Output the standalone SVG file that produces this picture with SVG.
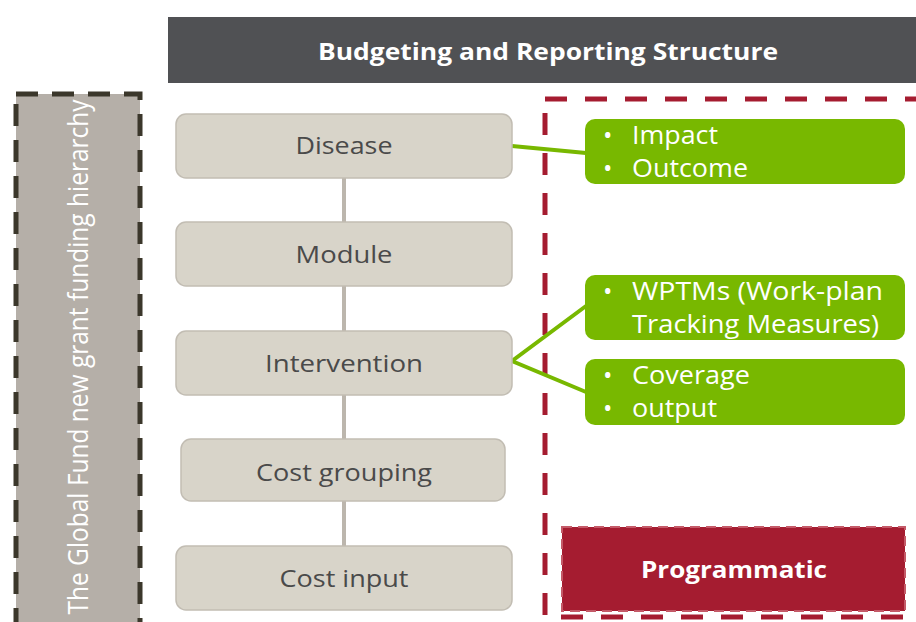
<svg xmlns="http://www.w3.org/2000/svg" width="916" height="622" viewBox="0 0 916 622">
  <style>
    .lvl rect { fill: #d8d4c9; stroke: #c2bdb3; stroke-width: 1.5; }
    .lvl text { font-family: "Open Sans", "Liberation Sans", sans-serif; font-size: 24.5px; fill: #4a4a4a; text-anchor: middle; }
    .res rect { fill: #78b800; }
    .res text { font-family: "Open Sans", "Liberation Sans", sans-serif; font-size: 25px; fill: #ffffff; }
    .stem { stroke: #bcb6ad; stroke-width: 4; fill: none; }
    .link { stroke: #78b800; stroke-width: 4; fill: none; }
  </style>

  <rect width="916" height="622" fill="#ffffff"/>

  <!-- title bar -->
  <g id="title">
    <rect x="168" y="17" width="748" height="66" fill="#505154"/>
    <text x="548" y="60" font-family="Open Sans, Liberation Sans, sans-serif" font-size="23.5" font-weight="bold" fill="#ffffff" text-anchor="middle" textLength="460" lengthAdjust="spacingAndGlyphs">Budgeting and Reporting Structure</text>
  </g>

  <!-- hierarchy side band -->
  <g id="hierarchy">
    <rect x="16" y="94" width="124" height="540" fill="#b5afa8" stroke="#3b372b" stroke-width="5" stroke-dasharray="22 14"/>
    <text transform="translate(88 357) rotate(-90)" font-family="Open Sans, Liberation Sans, sans-serif" font-size="27" fill="#ffffff" text-anchor="middle" textLength="515" lengthAdjust="spacingAndGlyphs">The Global Fund new grant funding hierarchy</text>
  </g>

  <!-- programmatic region -->
  <g id="programmatic-region">
    <rect x="545" y="99" width="380" height="518" fill="none" stroke="#a51c30" stroke-width="5" stroke-dasharray="22 18"/>
  </g>

  <!-- connectors -->
  <g id="connectors">
    <line class="stem" x1="344" y1="178" x2="344" y2="222"/>
    <line class="stem" x1="344" y1="286" x2="344" y2="331"/>
    <line class="stem" x1="344" y1="395" x2="344" y2="439"/>
    <line class="stem" x1="344" y1="501" x2="344" y2="546"/>
    <line class="link" x1="512" y1="146" x2="586" y2="153"/>
    <polyline class="link" points="586,306 512,361 586,392"/>
  </g>

  <!-- hierarchy levels -->
  <g id="disease" class="lvl">
    <rect x="176" y="114" width="336" height="64" rx="10"/>
    <text x="344" y="154" textLength="97" lengthAdjust="spacingAndGlyphs">Disease</text>
  </g>
  <g id="module" class="lvl">
    <rect x="176" y="222" width="336" height="64" rx="10"/>
    <text x="344" y="263" textLength="97" lengthAdjust="spacingAndGlyphs">Module</text>
  </g>
  <g id="intervention" class="lvl">
    <rect x="176" y="331" width="336" height="64" rx="10"/>
    <text x="344" y="372" textLength="158" lengthAdjust="spacingAndGlyphs">Intervention</text>
  </g>
  <g id="cost-grouping" class="lvl">
    <rect x="181" y="439" width="324" height="62" rx="10"/>
    <text x="344" y="481" textLength="176" lengthAdjust="spacingAndGlyphs">Cost grouping</text>
  </g>
  <g id="cost-input" class="lvl">
    <rect x="176" y="546" width="336" height="64" rx="10"/>
    <text x="344" y="587" textLength="129" lengthAdjust="spacingAndGlyphs">Cost input</text>
  </g>

  <!-- results boxes -->
  <g id="impact-outcome" class="res">
    <rect x="585" y="119" width="320" height="65" rx="10"/>
    <text x="603" y="144">•</text><text x="632" y="144" textLength="86" lengthAdjust="spacingAndGlyphs">Impact</text>
    <text x="603" y="177">•</text><text x="632" y="177" textLength="116" lengthAdjust="spacingAndGlyphs">Outcome</text>
  </g>
  <g id="wptms" class="res">
    <rect x="585" y="275" width="320" height="65" rx="10"/>
    <text x="603" y="300">•</text><text x="632" y="300" textLength="251" lengthAdjust="spacingAndGlyphs">WPTMs (Work-plan</text>
    <text x="632" y="333" textLength="247" lengthAdjust="spacingAndGlyphs">Tracking Measures)</text>
  </g>
  <g id="coverage-output" class="res">
    <rect x="585" y="359" width="320" height="66" rx="10"/>
    <text x="603" y="384">•</text><text x="632" y="384" textLength="118" lengthAdjust="spacingAndGlyphs">Coverage</text>
    <text x="603" y="417">•</text><text x="632" y="417" textLength="85" lengthAdjust="spacingAndGlyphs">output</text>
  </g>

  <!-- programmatic label -->
  <g id="programmatic">
    <rect x="562" y="527" width="343" height="84" fill="#a51c30" stroke="#c45a68" stroke-width="2" stroke-dasharray="10 6"/>
    <text x="734" y="578" font-family="Open Sans, Liberation Sans, sans-serif" font-size="22.5" font-weight="bold" fill="#ffffff" text-anchor="middle" textLength="186" lengthAdjust="spacingAndGlyphs">Programmatic</text>
  </g>
</svg>
